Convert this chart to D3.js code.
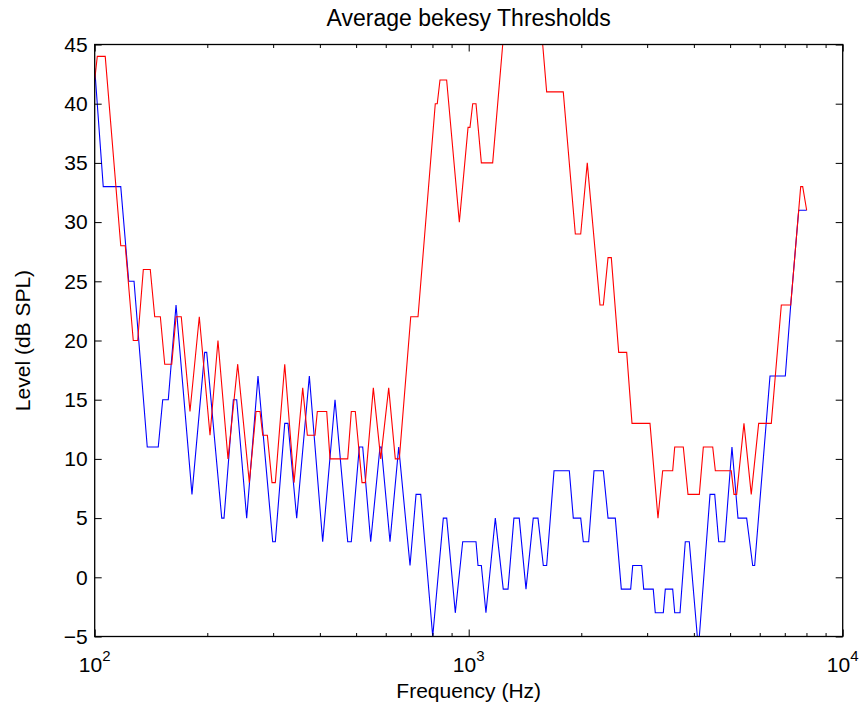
<!DOCTYPE html>
<html><head><meta charset="utf-8">
<script src="https://cdn.jsdelivr.net/npm/d3@7"></script>
<style>
body{margin:0;background:#fff}
text{font-family:"Liberation Sans",Arial,Helvetica,sans-serif;fill:#000}
</style>
</head><body>
<svg id="chart" width="865" height="711"></svg>
<script>
const titleText = "Average bekesy Thresholds";
const xLabelText = "Frequency (Hz)";
const yLabelText = "Level (dB SPL)";

const redFreq = [100,101.6,106.7,117.4,120.7,126.8,130.3,134.9,140.8,144.7,149.8,153.9,160.7,165.0,170.4,179.8,190.4,203.4,213.6,227.2,241.2,259.1,270.0,276.7,281.4,289.5,297.9,304.1,322.2,341.2,359.9,370.3,388.2,393.8,417.2,425.8,474.8,485.4,497.5,518.5,529.1,555.9,581.8,611.1,636.4,652.3,699.9,732,814,824,838,873,944,996,1008,1025,1046,1081,1159,1233,1577,1616,1790,1928,1993,2075,2244,2291,2358,2406,2518,2645,2733,3053,3207,3301,3511,3555,3748,3858,4137,4240,4492,4565,5035,5120,5206,5445,5695,5961,6443,6853,7261,7721,7817,8011];
const redLevel = [42,44,44,28,28,20,20,26,26,22,22,18,18,22,22,14,22,12,20,10,18,8,14,14,12,12,8,8,18,8,16,12,12,14,14,10,10,14,14,8,8,16,10,16,10,10,22,22,40,40,42,42,30,38,38,40,40,35,35,45,45,41,41,29,29,35,23,23,27,27,19,19,13,13,5,9,9,11,11,7,7,11,11,9,9,7,7,13,7,13,13,23,23,33,33,31];

const blueFreq = [100,105.4,117.4,123.3,127.4,138.2,147.9,152.0,157.3,165.0,182.0,196.8,199.3,218.6,221.7,234.8,239.7,254.9,273.3,299.2,304.1,322.2,328.7,346.8,374.9,407.0,439.1,474.8,485.4,509.9,520.7,547.0,579.2,583.9,616.0,649.9,696.8,723.1,744.3,801.3,855.3,873.4,920.8,963.7,1046,1059,1081,1112,1178,1237,1274,1321,1365,1423,1488,1532,1583,1616,1691,1858,1904,1993,2025,2093,2163,2291,2358,2466,2559,2711,2745,2901,2937,3115,3154,3314,3355,3511,3555,3673,3794,3889,4086,4137,4418,4548,4661,4837,5057,5248,5536,5745,5816,6392,7024,7261,7627,8011];
const blueLevel = [43,33,33,25,25,11,11,15,15,23,7,19,19,5,5,15,15,5,17,3,3,13,13,5,17,3,15,3,3,11,11,3,11,11,3,11,1,7,7,-5,5,5,-3,3,3,1,1,-3,5,-1,-1,5,5,-1,5,5,1,1,9,9,5,5,3,3,9,9,5,5,-1,-1,1,1,-1,-1,-3,-3,-1,-1,-3,-3,3,3,-5,-5,7,7,3,3,11,5,5,1,1,17,17,23,31,31];

const yTicks = [-5,0,5,10,15,20,25,30,35,40,45];
const yTickLabels = ["\u22125","0","5","10","15","20","25","30","35","40","45"];
const xMajorTicks = [100,1000,10000];
const xTickBase = "10";
const xTickExp = ["2","3","4"];
const xMinorTicks = [200,300,400,500,600,700,800,900,2000,3000,4000,5000,6000,7000,8000,9000];

const W = 865, H = 711;
const L = 94.7, R = 842.7, T = 44.5, B = 636.5;
const svg = d3.select("#chart");

const x = d3.scaleLog().domain([100,10000]).range([L,R]);
const y = d3.scaleLinear().domain([-5,45]).range([B,T]);

svg.append("defs").append("clipPath").attr("id","clip")
  .append("rect").attr("x",L).attr("y",T).attr("width",R-L).attr("height",B-T);

const line = d3.line().x(d=>x(d[0])).y(d=>y(d[1]));
const redData = redFreq.map((f,i)=>[f,redLevel[i]]);
const blueData = blueFreq.map((f,i)=>[f,blueLevel[i]]);

const g = svg.append("g").attr("clip-path","url(#clip)");
g.append("path").datum(blueData).attr("d",line).attr("fill","none").attr("stroke","#0000ff").attr("stroke-width",1.1);
g.append("path").datum(redData).attr("d",line).attr("fill","none").attr("stroke","#ff0000").attr("stroke-width",1.1);

function styleAxis(sel){
  sel.select(".domain").remove();
  sel.selectAll(".tick line").attr("stroke","#000").attr("stroke-width",1);
}
// bottom/top major + minor
svg.append("g").attr("transform",`translate(0,${B})`)
  .call(d3.axisBottom(x).tickValues(xMajorTicks).tickSize(-7).tickFormat("")).call(styleAxis);
svg.append("g").attr("transform",`translate(0,${B})`)
  .call(d3.axisBottom(x).tickValues(xMinorTicks).tickSize(-3.5).tickFormat("")).call(styleAxis);
svg.append("g").attr("transform",`translate(0,${T})`)
  .call(d3.axisTop(x).tickValues(xMajorTicks).tickSize(-7).tickFormat("")).call(styleAxis);
svg.append("g").attr("transform",`translate(0,${T})`)
  .call(d3.axisTop(x).tickValues(xMinorTicks).tickSize(-3.5).tickFormat("")).call(styleAxis);
// left/right
const yl = svg.append("g").attr("transform",`translate(${L},0)`)
  .call(d3.axisLeft(y).tickValues(yTicks).tickSize(-7).tickPadding(7).tickFormat((d,i)=>yTickLabels[i]));
yl.select(".domain").remove();
yl.selectAll(".tick line").attr("stroke","#000");
yl.selectAll(".tick text").style("font-size","21px").attr("fill","#000");
svg.append("g").attr("transform",`translate(${R},0)`)
  .call(d3.axisRight(y).tickValues(yTicks).tickSize(-7).tickFormat("")).call(styleAxis);

// box
svg.append("rect").attr("x",L).attr("y",T).attr("width",R-L).attr("height",B-T)
  .attr("fill","none").attr("stroke","#000").attr("stroke-width",1.3);

// x tick labels with superscripts
const xl = svg.append("g");
xMajorTicks.forEach((v,i)=>{
  const t = xl.append("text").attr("x",x(v)).attr("y",B+35).attr("text-anchor","middle").style("font-size","21px");
  t.append("tspan").text(xTickBase);
  t.append("tspan").attr("dy",-11).style("font-size","15px").text(xTickExp[i]);
});

svg.append("text").attr("x",(L+R)/2).attr("y",26).attr("text-anchor","middle").style("font-size","23px").text(titleText);
svg.append("text").attr("x",(L+R)/2).attr("y",698).attr("text-anchor","middle").style("font-size","21px").text(xLabelText);
svg.append("text").attr("transform",`translate(30,${(T+B)/2}) rotate(-90)`).attr("text-anchor","middle").style("font-size","21px").text(yLabelText);
</script>
</body></html>
